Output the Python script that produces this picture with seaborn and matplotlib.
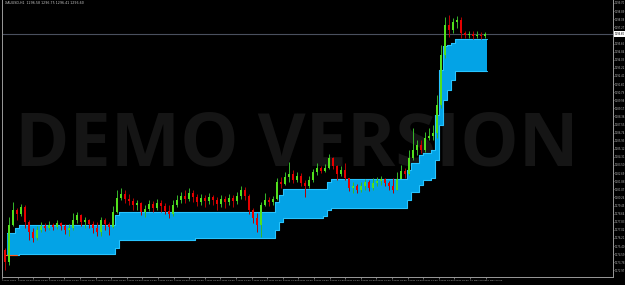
import numpy as np
import matplotlib
matplotlib.use("Agg")
import matplotlib.pyplot as plt
import seaborn as sns

nan = np.nan

# ---------------- data ----------------
first_open = 1275.0
close = [1273.8, 1277.5, 1279.0, 1278.6, 1279.3, 1277.8, 1276.8, 1276.2, 1277.0, 1277.4,
         1277.2, 1277.5, 1277.3, 1277.7, 1277.4, 1277.0, 1277.2, 1278.0, 1278.5, 1277.8,
         1278.0, 1277.6, 1277.2, 1276.8, 1278.0, 1277.6, 1277.3, 1278.8, 1280.2, 1280.6,
         1280.1, 1279.9, 1279.5, 1279.7, 1278.8, 1279.1, 1279.6, 1279.2, 1279.7, 1279.4,
         1278.9, 1278.6, 1279.5, 1280.0, 1280.4, 1280.1, 1280.7, 1280.3, 1279.8, 1280.2,
         1279.9, 1280.3, 1280.0, 1279.6, 1280.1, 1279.8, 1280.2, 1279.9, 1280.4, 1281.0,
         1280.4, 1279.0, 1278.2, 1277.5, 1279.5, 1280.0, 1279.8, 1280.1, 1281.8, 1281.6,
         1282.3, 1282.6, 1282.0, 1282.4, 1281.7, 1281.4, 1282.0, 1282.8, 1283.2, 1282.9,
         1283.2, 1284.2, 1283.4, 1282.6, 1283.0, 1282.2, 1281.2, 1281.4, 1281.0, 1281.4,
         1281.8, 1281.2, 1281.7, 1281.9, 1282.1, 1281.7, 1281.4, 1281.0, 1282.1, 1282.9,
         1282.6, 1284.2, 1285.0, 1285.5, 1285.0, 1286.2, 1286.4, 1286.7, 1289.5, 1294.5,
         1297.5, 1297.0, 1297.8, 1298.0, 1296.7, 1296.5, 1296.6, 1296.4, 1296.5, 1296.4,
         1296.6]
high = [1275.2, 1278.3, 1279.8, 1279.2, 1279.6, 1279.5, 1278.0, 1277.2, 1277.4, 1277.8,
        1277.7, 1277.9, 1277.7, 1278.0, 1277.8, 1277.6, 1277.6, 1278.7, 1278.8, 1278.6,
        1278.3, 1278.1, 1277.9, 1277.8, 1278.3, 1278.2, 1277.8, 1279.4, 1281.0, 1281.2,
        1281.0, 1280.6, 1280.2, 1280.0, 1279.8, 1279.5, 1280.0, 1279.9, 1280.1, 1280.0,
        1279.7, 1279.5, 1280.0, 1280.5, 1280.8, 1281.0, 1281.2, 1281.0, 1280.6, 1280.6,
        1280.5, 1280.7, 1280.5, 1280.3, 1280.5, 1280.4, 1280.6, 1280.5, 1280.8, 1281.4,
        1281.3, 1280.6, 1279.2, 1278.7, 1279.8, 1280.7, 1280.3, 1280.4, 1282.2, 1282.3,
        1282.8, 1283.8, 1283.0, 1282.8, 1282.7, 1282.0, 1282.4, 1283.1, 1283.7, 1283.4,
        1283.6, 1284.6, 1284.3, 1283.5, 1283.4, 1283.7, 1282.2, 1281.8, 1281.6, 1281.8,
        1282.1, 1282.0, 1282.2, 1282.3, 1282.4, 1282.2, 1281.9, 1282.2, 1282.8, 1283.5,
        1283.2, 1285.0, 1287.2, 1286.0, 1286.0, 1286.8, 1287.2, 1287.5, 1290.5, 1295.5,
        1298.3, 1298.5, 1298.2, 1298.4, 1298.3, 1296.9, 1296.9, 1296.9, 1296.9, 1296.8,
        1296.8]
low = [1273.0, 1273.5, 1277.4, 1278.0, 1278.4, 1277.2, 1276.0, 1275.8, 1276.0, 1276.8,
       1276.9, 1277.0, 1277.0, 1277.1, 1277.0, 1276.6, 1276.4, 1277.0, 1277.7, 1277.4,
       1277.2, 1277.2, 1276.7, 1276.4, 1276.4, 1277.0, 1276.5, 1277.2, 1278.7, 1280.0,
       1279.7, 1279.5, 1279.0, 1279.0, 1278.5, 1278.3, 1278.9, 1278.8, 1279.0, 1278.8,
       1278.6, 1278.2, 1278.4, 1279.3, 1279.7, 1279.7, 1279.9, 1279.8, 1279.4, 1279.5,
       1279.3, 1279.6, 1279.5, 1279.0, 1279.3, 1279.2, 1279.5, 1279.3, 1279.6, 1280.1,
       1280.0, 1278.6, 1277.7, 1276.8, 1276.3, 1279.4, 1279.4, 1279.5, 1280.0, 1281.2,
       1281.5, 1281.8, 1281.7, 1281.8, 1281.4, 1280.3, 1281.2, 1281.8, 1282.5, 1282.7,
       1282.8, 1283.1, 1283.1, 1282.0, 1282.4, 1282.0, 1280.9, 1280.7, 1280.7, 1280.8,
       1281.0, 1280.9, 1281.0, 1281.4, 1281.5, 1281.4, 1281.0, 1280.7, 1281.0, 1282.2,
       1282.2, 1282.5, 1284.0, 1284.5, 1284.7, 1284.8, 1286.0, 1286.0, 1286.2, 1289.2,
       1294.2, 1296.3, 1296.7, 1297.2, 1296.2, 1296.2, 1296.2, 1296.1, 1296.2, 1296.1,
       1296.2]

band_upper = ([nan] + [1276.7] * 2 + [1277.2] + [1277.5] * 24 + [1278.5] + [1278.8] * 39
              + [1279.8] + [1280.5] + [1281.1] * 11 + [1281.8] + [1282.1] * 19 + [1283.0]
              + [1283.7] * 2 + [1284.5] + [1284.7] * 2 + [1285.0] + [1288.5] + [1293.0]
              + [1295.4] + [1295.5] + [1295.7] + [1296.1] * 8)
band_lower = ([nan] + [1274.5] * 3 + [1274.6] * 24 + [1275.2] + [1276.0] * 19 + [1276.2] * 20
              + [1277.0] + [1277.8] + [1278.2] * 10 + [1278.4] + [1279.0] + [1279.2] * 19
              + [1280.0] + [1280.8] * 2 + [1281.5] + [1282.0] * 2 + [1282.2] + [1284.0]
              + [1287.5] + [1290.0] + [1291.0] + [1292.0] + [1292.9] * 8)
signal_line = [1274.5, 1274.5, 1274.5, 1274.5]
current_price = 1296.6

price_ticks = [1299.70, 1298.89, 1298.08, 1297.27, 1295.65, 1294.84, 1294.03, 1293.22,
               1292.41, 1291.60, 1290.79, 1289.98, 1289.17, 1288.36, 1287.55, 1286.74,
               1285.93, 1285.12, 1284.31, 1283.50, 1282.69, 1281.88, 1281.07, 1280.26,
               1279.45, 1278.64, 1277.83, 1277.02, 1276.21, 1275.40, 1274.59, 1273.78,
               1272.97]
time_labels = ["3 May 2018", "3 May 04:00", "3 May 08:00", "3 May 12:00", "3 May 16:00",
               "3 May 20:00", "4 May 00:00", "4 May 04:00", "4 May 08:00", "4 May 12:00",
               "4 May 16:00", "4 May 20:00", "7 May 00:00", "7 May 04:00", "7 May 08:00",
               "7 May 12:00", "7 May 16:00", "7 May 20:00", "8 May 00:00", "8 May 04:00",
               "8 May 08:00", "8 May 12:00", "8 May 16:00", "8 May 20:00", "9 May 00:00",
               "9 May 04:00", "9 May 08:00", "9 May 12:00", "9 May 16:00", "9 May 20:00",
               "10 May 00:00", "10 May 04:00"]
title_text = "XAUUSD,H1  1296.58 1296.75 1296.41 1296.60"
watermark = "DEMO VERSION"

# ---------------- drawing ----------------
sns.set_theme(style="dark", rc={"axes.facecolor": "black", "figure.facecolor": "black",
                                "axes.edgecolor": "#9a9a9a", "axes.grid": False})
plt.rcParams['font.family'] = ['DejaVu Sans']

fig = plt.figure(figsize=(6.25, 2.85), dpi=100)
ax = fig.add_axes([2 / 625, 8 / 285, 611 / 625, 277 / 285])
ax.set_facecolor("black")

c = np.array(close)
h = np.array(high)
l = np.array(low)
o = np.concatenate([[first_open], c[:-1]])
idx = np.arange(len(c))

# watermark
ax.text(0.483, 0.402, watermark, transform=ax.transAxes, ha="center", va="baseline",
        fontsize=53, fontweight="bold", family=["Open Sans", "DejaVu Sans"],
        color="#151515", zorder=0.5)

# price line
ax.axhline(current_price, color="#4a505e", lw=0.8, zorder=1)

# band
xe = np.append(idx - 0.5, idx[-1] + 0.5)
up = np.append(band_upper, band_upper[-1])
lo = np.append(band_lower, band_lower[-1])
ax.fill_between(xe, lo, up, step="post", color="#03A3E6", lw=0, zorder=2)
sns.lineplot(x=xe, y=up, drawstyle="steps-post", color="#27C4FF", lw=0.8, ax=ax, zorder=2.2)
sns.lineplot(x=xe, y=lo, drawstyle="steps-post", color="#27C4FF", lw=0.8, ax=ax, zorder=2.2)
ax.plot(idx[:len(signal_line)], signal_line, color="#FF5A1E", lw=0.8, zorder=2.3)

# candles
bull = c >= o
wick_cols = np.where(bull, "#36B82A", "#B80000")
body_cols = np.where(bull, "#52E01C", "#E60000")
ax.vlines(idx, l, h, colors=wick_cols, lw=0.7, zorder=3)
body_bottom = np.minimum(o, c)
body_h = np.maximum(np.abs(c - o), 0.08)
ax.bar(idx, body_h, bottom=body_bottom, width=0.6, color=body_cols, lw=0, zorder=4)

# axes limits / spines
ax.set_xlim(-0.75, 152)
ax.set_ylim(1272.3, 1300.0)
for s in ["left", "right", "bottom"]:
    ax.spines[s].set_visible(True)
    ax.spines[s].set_color("#9a9a9a")
    ax.spines[s].set_linewidth(0.7)
ax.spines["top"].set_visible(False)

# x ticks
ax.set_xticks(np.arange(len(time_labels)) * 3.9 - 0.75)
ax.set_xticklabels(time_labels, fontsize=1.75, color="#b8b8b8", ha="left")
ax.tick_params(axis="x", length=1.5, width=0.5, color="#9a9a9a", pad=0.6, bottom=True)

# y ticks on the right
ax.yaxis.tick_right()
ax.set_yticks(price_ticks)
ax.set_yticklabels([f"{p:.2f}" for p in price_ticks], fontsize=1.8, color="#b8b8b8")
ax.tick_params(axis="y", length=1.0, width=0.5, color="#9a9a9a", pad=0.5, right=True, left=False)
ax.set_xlabel("")
ax.set_ylabel("")

# current price label
ax.text(1.002, current_price, f"{current_price:.2f}", transform=ax.get_yaxis_transform(),
        fontsize=1.8, color="black", va="center", ha="left", clip_on=False,
        bbox=dict(facecolor="white", edgecolor="none", pad=0.4), zorder=6)

# title
fig.text(5 / 625, 1 - 3.5 / 285, title_text, fontsize=2.3, color="#c8c8c8", va="center", ha="left")

fig.savefig("out.png", dpi=100, facecolor="black")
